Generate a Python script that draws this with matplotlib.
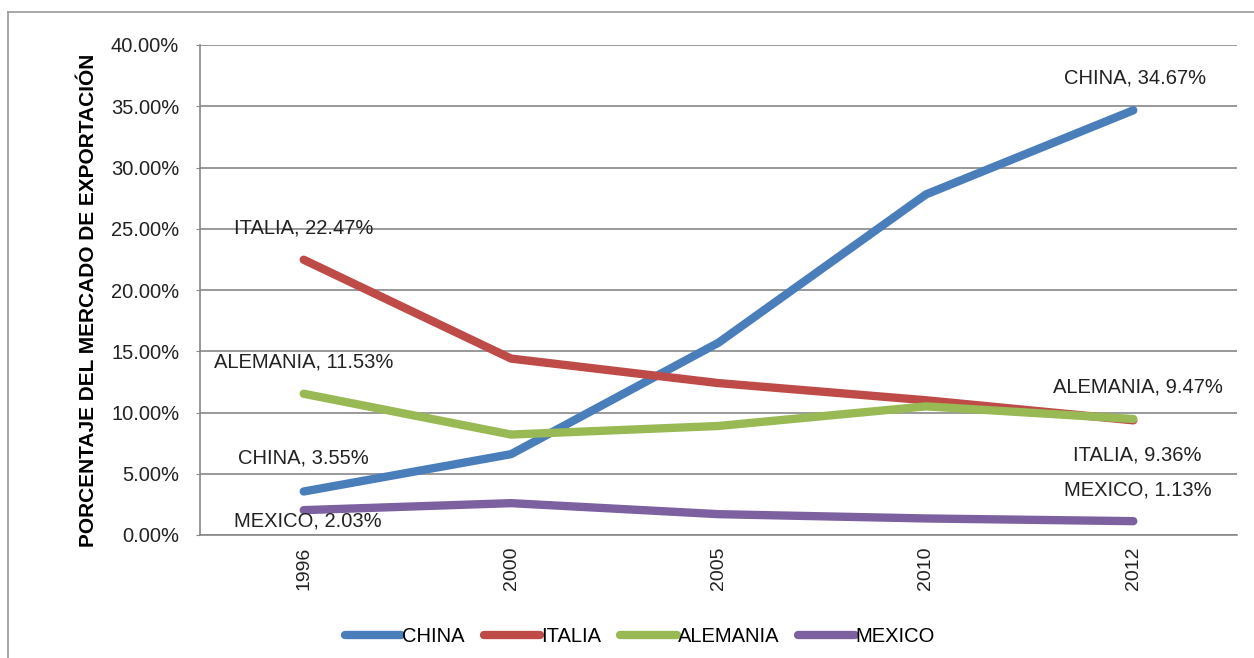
import matplotlib
matplotlib.use("Agg")
from matplotlib import pyplot as plt
from matplotlib.lines import Line2D
import numpy as np

plt.rcParams['font.family'] = ['Liberation Sans', 'DejaVu Sans']

anios = ['1996', '2000', '2005', '2010', '2012']
china = [3.55, 6.6, 15.7, 27.8, 34.67]
italia = [22.47, 14.4, 12.4, 11.0, 9.36]
alemania = [11.53, 8.2, 8.9, 10.5, 9.47]
mexico = [2.03, 2.6, 1.7, 1.35, 1.13]

series = [('CHINA', china, '#4A7EBB'),
          ('ITALIA', italia, '#BE4B48'),
          ('ALEMANIA', alemania, '#98B954'),
          ('MEXICO', mexico, '#7D60A0')]

fs = 14.5

fig = plt.figure(figsize=(12.54, 6.58), dpi=100)
ax = fig.add_axes([200 / 1254, 1 - 535 / 658, 1037 / 1254, 490 / 658])

x = np.arange(len(anios))
for nombre, valores, color in series:
    ax.plot(x, valores, color=color, lw=6, solid_capstyle='round', label=nombre)

ax.set_xlim(-0.5, len(anios) - 0.5)
ax.set_ylim(0, 40)
ax.set_yticks(np.arange(0, 41, 5))
ax.set_yticklabels([f'{v:.2f}%' for v in np.arange(0, 41, 5)], fontsize=fs, color='#222222')
ax.set_xticks(x)
ax.set_xticklabels(anios, rotation=90, fontsize=14, color='#222222')
ax.tick_params(axis='x', length=0, pad=8.5)
ax.tick_params(axis='y', length=3, color='#888888', pad=12)
ax.grid(axis='y', color='#888888', lw=1.2)
ax.set_axisbelow(True)
for s in ['top', 'right']:
    ax.spines[s].set_visible(False)
for s in ['left', 'bottom']:
    ax.spines[s].set_color('#888888')
    ax.spines[s].set_linewidth(1.2)

ax.set_ylabel('PORCENTAJE DEL MERCADO DE EXPORTACIÓN', fontsize=15, fontweight='bold')
ax.yaxis.set_label_coords(-0.098, 0.478)

# etiquetas de datos
etiquetas = [(0, 'ITALIA, 22.47%', 25.05),
             (0, 'ALEMANIA, 11.53%', 14.1),
             (0, 'CHINA, 3.55%', 6.3),
             (0.02, 'MEXICO, 2.03%', 1.15),
             (4.01, 'CHINA, 34.67%', 37.3),
             (4.02, 'ALEMANIA, 9.47%', 12.1),
             (4.02, 'ITALIA, 9.36%', 6.55),
             (4.02, 'MEXICO, 1.13%', 3.7)]
for xi, texto, yi in etiquetas:
    ax.text(xi, yi, texto, ha='center', va='center', fontsize=fs, color='#222222')

ax.legend(loc='center', bbox_to_anchor=(640 / 1254, 1 - 637 / 658),
          bbox_transform=fig.transFigure, ncol=4, frameon=False,
          fontsize=fs, handlelength=2.8, handletextpad=0.05, columnspacing=0.95)

# marco exterior
fig.add_artist(Line2D([8 / 1254, 8 / 1254], [0, 1 - 12 / 658], color='#999999', lw=1.2))
fig.add_artist(Line2D([8 / 1254, 1], [1 - 12 / 658, 1 - 12 / 658], color='#999999', lw=1.2))

fig.savefig('out.png', dpi=100)
